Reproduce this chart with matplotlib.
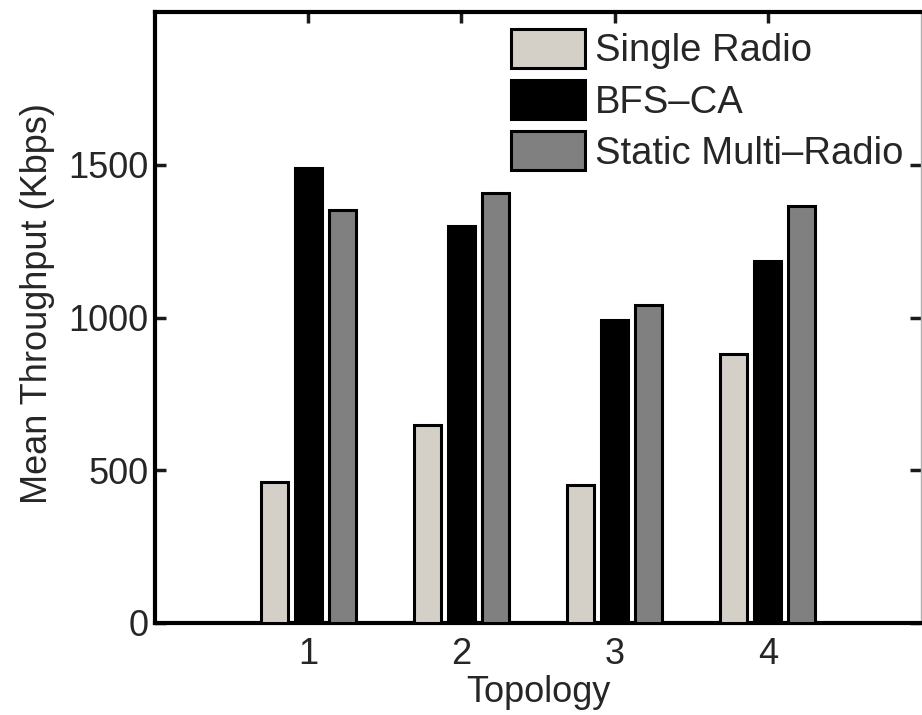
import numpy as np
import matplotlib
matplotlib.use("Agg")
import matplotlib.pyplot as plt

topologies = [1, 2, 3, 4]
single_radio = [460, 647, 451, 882]
bfs_ca = [1490, 1300, 993, 1184]
static_multi = [1353, 1406, 1042, 1366]

series_names = ["Single Radio", "BFS\u2013CA", "Static Multi\u2013Radio"]
series_colors = ["#d4d0c8", "#000000", "#808080"]

plt.rcParams["font.family"] = ["Liberation Sans", "DejaVu Sans"]
plt.rcParams["font.size"] = 26

fig = plt.figure(figsize=(9.22, 7.15), dpi=100)
ax = fig.add_axes([155 / 922, 1 - 623 / 715, 766 / 922, 611 / 715])

# MATLAB style grouped bars: slot 0.222, bar width 0.8 of slot
slot = (3 / 4.5) / 3
width = slot * 0.8
x = np.array(topologies, dtype=float)
for i, (vals, name, col) in enumerate(zip([single_radio, bfs_ca, static_multi],
                                          series_names, series_colors)):
    ax.bar(x + (i - 1) * slot, vals, width, color=col, edgecolor="black",
           linewidth=2.2, label=name, zorder=3)

ax.set_xlim(0, 5)
ax.set_ylim(0, 2000)
ax.set_xticks(topologies)
ax.set_yticks([0, 500, 1000, 1500])
ax.tick_params(direction="in", length=8, width=2.5, top=True, right=True,
               colors="#1a1a1a", labelcolor="#262626")
ax.tick_params(axis="y", pad=4.5)
ax.tick_params(axis="x", pad=10)
for side in ["left", "bottom", "top"]:
    ax.spines[side].set_linewidth(3)
ax.spines["right"].set_linewidth(1)
ax.spines["right"].set_color("#b0b0b0")

ax.set_xlabel("Topology", color="#262626", labelpad=2)
ax.set_ylabel("Mean Throughput (Kbps)", color="#262626")
ax.yaxis.set_label_coords(-0.13, 0.523)

leg = ax.legend(loc="upper left", bbox_to_anchor=(511 / 922, 1 - 29 / 715),
                bbox_transform=fig.transFigure, frameon=False, fontsize=27.5,
                borderpad=0, borderaxespad=0, handlelength=1.95,
                handleheight=1.2, handletextpad=0.25, labelspacing=0.28)
for t in leg.get_texts():
    t.set_color("#262626")

plt.savefig("out.png", dpi=100)
plt.close()
